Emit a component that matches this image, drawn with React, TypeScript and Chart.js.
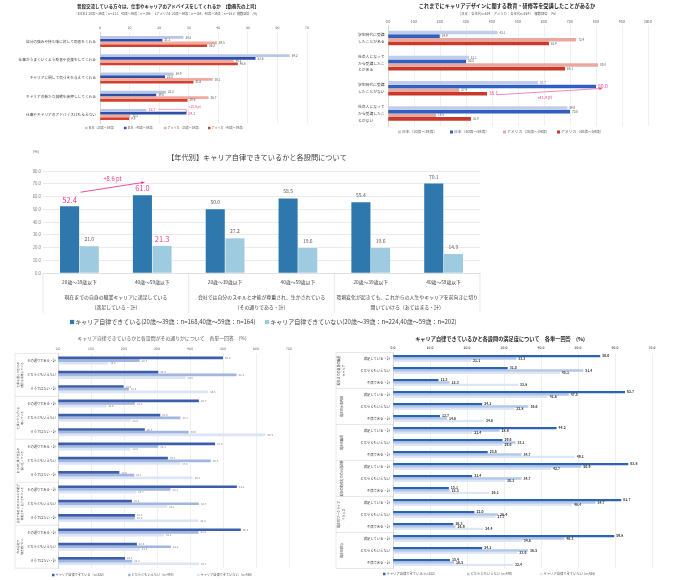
import React, { useEffect, useRef } from "react";
import { Chart, registerables } from "chart.js";
Chart.register(...registerables);

const FONT = '"Noto Sans CJK JP", "Noto Sans", sans-serif';
const PINK = "#ea3b8f";
const GRID = "#e0e0e0";

// ===== Top-left chart data =====
const tlTitle = "普段交流している方々は、仕事やキャリアのアドバイスをしてくれるか　【勤務先の上司】";
const tlSubtitle = "（【日本】20歳～39歳：n＝211、40歳～59歳：n＝195／【アメリカ】20歳～39歳：n＝168、40歳～59歳：n＝161）複数回答　(%)";
const tlCategories = [
  "自分の強みや持ち味に対して助言をくれる",
  "仕事がうまくいくよう助言や支援をしてくれる",
  "キャリアに関して気づきを与えてくれる",
  "キャリアの新たな挑戦を後押ししてくれる",
  "仕事やキャリアのアドバイスはもらえない",
];
const tlSeries = ["日本（20歳～39歳）", "日本（40歳～59歳）", "アメリカ（20歳～39歳）", "アメリカ（40歳～59歳）"];
const tlJapan2039 = [28.2, 64.2, 24.9, 22.3, 15.7];
const tlJapan4059 = [21.1, 52.6, 22.0, 19.0, 29.2];
const tlUsa2039 = [39.5, 45.2, 38.1, 36.7, 10.2];
const tlUsa4059 = [36.2, 46.6, 31.6, 29.6, 9.9];
const tlGapLabel = "+13.5 pt";

// ===== Top-right chart data =====
const trTitle = "これまでにキャリアデザインに関する教育・研修等を受講したことがあるか";
const trSubtitle = "［日本：各年代n=624　アメリカ：各年代n=624］　複数回答　(%)";
const trCategories = [
  ["学生時代に受講", "したことがある"],
  ["社会人になって", "から受講したこ", "とがある"],
  ["学生時代に受講", "したことがない"],
  ["社会人になって", "から受講したこ", "とがない"],
];
const trSeries = ["日本（20歳～39歳）", "日本（40歳～59歳）", "アメリカ（20歳～39歳）", "アメリカ（40歳～59歳）"];
const trJapan2039 = [42.1, 31.1, 57.7, 69.0];
const trJapan4059 = [19.9, 30.0, 80.0, 70.0];
const trUsa2039 = [72.4, 80.8, 27.4, 18.5];
const trUsa4059 = [61.9, 68.1, 38.1, 31.9];
const trGapLabel = "+41.9 pt";

// ===== Middle chart data =====
const midTitle = "【年代別】キャリア自律できているかと各設問について";
const midAges = ["20歳～39歳以下", "40歳～59歳以下"];
const midQuestions = [
  ["現在までの自身の職業キャリアに満足している", "（満足している・計）"],
  ["会社では自分のスキルと才能が尊重され、生かされている", "（その通りである・計）"],
  ["環境変化が起きても、これからの人生やキャリアを前向きに切り", "開いていける（あてはまる・計）"],
];
const midSeries = [
  "キャリア自律できている(20歳～39歳：n=168,40歳～59歳：n=164)",
  "キャリア自律できていない(20歳～39歳：n=224,40歳～59歳：n=202)",
];
const midAutonomous = [52.4, 61.0, 50.0, 58.5, 55.4, 70.1];
const midNotAutonomous = [21.0, 21.3, 27.2, 19.6, 19.6, 14.9];
const midGapLabel = "+8.6 pt";

// ===== Bottom-left chart data =====
const blTitle = "キャリア自律できているかと各設問がその通りかについて　各単一回答　(%)";
const blGroups = [
  ["仕事を通じて自分の", "成長を実感している"],
  ["仕事にやりがいを", "感じている"],
  ["自分の仕事が社会の", "役に立っている"],
  ["会社では自分のスキルと才能が", "尊重され、生かされている"],
  ["今の会社で", "働き続けたい"],
];
const blItems = ["その通りである・計", "どちらともいえない", "そうではない・計"];
const blSeries = ["キャリア自律できている（n=332）", "どちらともいえない（n=490）", "キャリア自律できていない（n=436）"];
const blAutonomous = [50.0, 30.4, 19.9, 42.7, 31.0, 26.3, 47.6, 33.3, 18.6, 54.2, 22.4, 23.3, 55.4, 23.9, 20.3];
const blNeutral = [24.7, 54.1, 21.5, 23.3, 37.1, 39.6, 30.4, 46.3, 23.1, 34.1, 42.7, 23.3, 42.6, 34.2, 22.5];
const blNotAutonomous = [15.2, 38.6, 45.5, 14.6, 22.0, 62.9, 22.0, 37.0, 40.8, 23.7, 33.1, 42.5, 32.1, 24.8, 42.7];

// ===== Bottom-right chart data =====
const brTitle = "キャリア自律できているかと各設問の満足度について　各単一回答　(%)";
const brGroups = [
  ["現在までの自身の職業", "キャリア"],
  ["現在の仕事内容"],
  ["現在の職場"],
  ["現在の勤務先での人間関係"],
  ["現在のワークライフ", "バランス"],
  ["現在の給与"],
];
const brItems = ["満足している・計", "どちらともいえない", "不満である・計"];
const brSeries = ["キャリア自律できている (n=332)", "どちらともいえない (n=490)", "キャリア自律できていない (n=426)"];
const brAutonomous = [56.0, 31.0, 12.3, 62.7, 24.1, 12.7, 44.2, 29.6, 25.6, 63.6, 21.4, 15.1, 61.7, 22.0, 16.3, 59.8, 24.1, 15.4];
const brNeutral = [33.3, 51.4, 15.3, 47.5, 36.6, 14.6, 28.8, 33.1, 34.7, 50.9, 34.7, 15.3, 54.7, 28.4, 16.9, 46.3, 36.5, 16.5];
const brNotAutonomous = [21.1, 45.1, 33.8, 41.8, 32.8, 24.6, 21.4, 29.6, 49.1, 42.7, 30.3, 26.1, 48.4, 27.7, 24.4, 34.8, 33.6, 32.4];

// ===== helpers =====
function text(ctx: any, s: string, x: number, y: number, size: number, color = "#404040", align = "left", bold = false) {
  ctx.save();
  ctx.font = `${bold ? "bold " : ""}${size}px ${FONT}`;
  ctx.fillStyle = color;
  ctx.textAlign = align;
  ctx.textBaseline = "middle";
  ctx.fillText(s, x, y);
  ctx.restore();
}

function vtext(ctx: any, lines: string[], cx: number, cy: number, size: number, color: string, gap: number) {
  ctx.save();
  ctx.translate(cx, cy);
  ctx.rotate(-Math.PI / 2);
  ctx.font = `${size}px ${FONT}`;
  ctx.fillStyle = color;
  ctx.textAlign = "center";
  ctx.textBaseline = "middle";
  const n = lines.length;
  lines.forEach((l, i) => ctx.fillText(l, 0, (i - (n - 1) / 2) * gap));
  ctx.restore();
}

function legend(ctx: any, items: [string, string][], xs: number[], y: number, size: number, box: number, color = "#404040") {
  items.forEach(([label, fill], i) => {
    ctx.save();
    ctx.fillStyle = fill;
    ctx.fillRect(xs[i], y - box / 2, box, box);
    ctx.restore();
    text(ctx, label, xs[i] + box + 1, y, size, color);
  });
}

function arrow(ctx: any, x1: number, y1: number, x2: number, y2: number, color: string, w: number, head: number) {
  ctx.save();
  ctx.strokeStyle = color;
  ctx.fillStyle = color;
  ctx.lineWidth = w;
  ctx.beginPath();
  ctx.moveTo(x1, y1);
  ctx.lineTo(x2, y2);
  ctx.stroke();
  const a = Math.atan2(y2 - y1, x2 - x1);
  ctx.beginPath();
  ctx.moveTo(x2, y2);
  ctx.lineTo(x2 - head * Math.cos(a - 0.45), y2 - head * Math.sin(a - 0.45));
  ctx.lineTo(x2 - head * Math.cos(a + 0.45), y2 - head * Math.sin(a + 0.45));
  ctx.closePath();
  ctx.fill();
  ctx.restore();
}

function valueLabels(o: { size: number; color: string; offset: number; bold?: boolean; highlight?: Record<string, any> }) {
  return {
    id: "valueLabels",
    afterDatasetsDraw(chart: any) {
      const ctx = chart.ctx;
      const horiz = chart.options.indexAxis === "y";
      chart.data.datasets.forEach((ds: any, di: number) => {
        const meta = chart.getDatasetMeta(di);
        meta.data.forEach((el: any, i: number) => {
          const v = ds.data[i];
          if (v == null) return;
          const h = (o.highlight && o.highlight[`${di}-${i}`]) || {};
          const size = h.size ?? o.size;
          const color = h.color ?? o.color;
          const s = Number(v).toFixed(1);
          if (horiz) text(ctx, s, el.x + o.offset + (h.dx || 0), el.y + (h.dy || 0), size, color, "left", o.bold);
          else text(ctx, s, el.x + (h.dx || 0), el.y - o.offset + (h.dy || 0), size, color, "center", o.bold);
        });
      });
    },
  };
}

function decor(fn: (ctx: any, chart: any) => void) {
  return { id: "decor", afterDraw(chart: any) { fn(chart.ctx, chart); } };
}

function hbar(o: any) {
  return {
    type: "bar",
    data: { labels: o.labels, datasets: o.datasets },
    options: {
      indexAxis: "y",
      responsive: false,
      animation: false,
      events: [],
      layout: { padding: o.pad },
      plugins: { legend: { display: false }, title: { display: false }, tooltip: { enabled: false } },
      datasets: { bar: { categoryPercentage: o.catPct, barPercentage: 1 } },
      scales: {
        x: {
          position: "top",
          min: 0,
          max: o.max,
          ticks: {
            stepSize: o.step,
            font: { family: FONT, size: o.tickSize, weight: o.tickBold ? "bold" : "normal" },
            color: "#595959",
            padding: o.tickPad ?? 2,
            maxRotation: 0,
            callback: (v: any) => Number(v).toFixed(o.decimals),
          },
          grid: { color: GRID, lineWidth: 0.5, drawTicks: false },
          border: { display: false },
          afterFit: (s: any) => { s.height = o.xHeight; },
        },
        y: {
          ticks: {
            autoSkip: false,
            font: { family: FONT, size: o.labelSize, lineHeight: o.labelLine ?? 1.2 },
            color: "#404040",
            padding: o.labelPad ?? 3,
            crossAlign: o.crossAlign ?? "near",
          },
          grid: { display: false, drawTicks: false },
          border: { color: "#bfbfbf", width: 0.5 },
          afterFit: (s: any) => { s.width = o.yWidth; },
        },
      },
    },
    plugins: o.plugins,
  };
}

// ===== builders =====
const TL_C = ["#b9c6e8", "#2d4fa6", "#f0aaa0", "#d4402e"];
function buildTopLeft() {
  return hbar({
    labels: tlCategories,
    datasets: [
      { label: tlSeries[0], data: tlJapan2039, backgroundColor: TL_C[0] },
      { label: tlSeries[1], data: tlJapan4059, backgroundColor: TL_C[1] },
      { label: tlSeries[2], data: tlUsa2039, backgroundColor: TL_C[2] },
      { label: tlSeries[3], data: tlUsa4059, backgroundColor: TL_C[3] },
    ],
    max: 70, step: 10, decimals: 0, tickSize: 3.5, tickPad: 3,
    pad: { left: 3, right: 28, top: 26.4, bottom: 13.4 },
    xHeight: 6, yWidth: 97, catPct: 0.6, labelSize: 3.7, labelPad: 4,
    plugins: [
      valueLabels({ size: 3, color: "#595959", offset: 2, highlight: { "0-4": { color: PINK, size: 3.6, dy: -1 }, "1-4": { color: PINK, size: 3.6, dy: 1 } } }),
      decor((ctx, chart) => {
        text(ctx, tlTitle, 168, 6, 4.5, "#262626", "center", true);
        text(ctx, tlSubtitle, 166, 14, 3.1, "#595959", "center");
        legend(ctx, tlSeries.map((s, i) => [s, TL_C[i]] as [string, string]), [85, 124, 164, 208], 128, 3, 2.5, "#595959");
        const a = chart.getDatasetMeta(0).data[4];
        const b = chart.getDatasetMeta(1).data[4];
        ctx.save();
        ctx.strokeStyle = PINK;
        ctx.lineWidth = 0.5;
        ctx.beginPath();
        ctx.moveTo(a.x + 12, a.y - 1);
        ctx.lineTo(b.x, a.y - 1);
        ctx.lineTo(b.x, b.y);
        ctx.stroke();
        ctx.restore();
        text(ctx, tlGapLabel, b.x + 2, a.y - 4, 3.4, PINK);
      }),
    ],
  });
}

const TR_C = ["#c3cdea", "#2f5fbf", "#e9a89f", "#c9382a"];
function buildTopRight() {
  return hbar({
    labels: trCategories,
    datasets: [
      { label: trSeries[0], data: trJapan2039, backgroundColor: TR_C[0] },
      { label: trSeries[1], data: trJapan4059, backgroundColor: TR_C[1] },
      { label: trSeries[2], data: trUsa2039, backgroundColor: TR_C[2] },
      { label: trSeries[3], data: trUsa4059, backgroundColor: TR_C[3] },
    ],
    max: 100, step: 10, decimals: 1, tickSize: 3.3, tickPad: 2,
    pad: { left: 18, right: 27, top: 19.4, bottom: 11 },
    xHeight: 6, yWidth: 30, catPct: 0.58, labelSize: 3.8, labelLine: 1.75, crossAlign: "far",
    plugins: [
      valueLabels({ size: 3, color: "#595959", offset: 2, highlight: { "1-2": { color: PINK, size: 5 }, "3-2": { color: PINK, size: 4.6 } } }),
      decor((ctx, chart) => {
        text(ctx, trTitle, 167, 6, 5.2, "#262626", "center", true);
        text(ctx, trSubtitle, 167, 14, 3.3, "#595959", "center");
        legend(ctx, trSeries.map((s, i) => [s, TR_C[i]] as [string, string]), [58, 110, 163, 217], 132, 3.8, 3, "#595959");
        const r = chart.getDatasetMeta(3).data[2];
        const d = chart.getDatasetMeta(1).data[2];
        const x1 = r.x + 10, y1 = r.y + 1, x2 = d.x + 6, y2 = d.y + 2;
        arrow(ctx, x1, y1, x2, y2, PINK, 0.6, 3);
        text(ctx, trGapLabel, (x1 + x2) / 2 - 5, Math.max(y1, y2) + 3, 4, PINK, "center");
      }),
    ],
  });
}

const MID_C = ["#2f78ad", "#9ecbe0"];
function buildMiddle() {
  return {
    type: "bar",
    data: {
      labels: midQuestions.flatMap(() => midAges),
      datasets: [
        { label: midSeries[0], data: midAutonomous, backgroundColor: MID_C[0] },
        { label: midSeries[1], data: midNotAutonomous, backgroundColor: MID_C[1] },
      ],
    },
    options: {
      responsive: false,
      animation: false,
      events: [],
      layout: { padding: { left: 10, right: 10, top: 31, bottom: 2 } },
      plugins: { legend: { display: false }, title: { display: false }, tooltip: { enabled: false } },
      datasets: { bar: { categoryPercentage: 0.54, barPercentage: 0.97 } },
      scales: {
        x: {
          ticks: { font: { family: FONT, size: 4.8 }, color: "#404040", padding: 6, maxRotation: 0, autoSkip: false },
          grid: { display: false, drawTicks: false },
          border: { color: "#d9d9d9", width: 0.6 },
          afterFit: (s: any) => { s.height = 55; },
        },
        y: {
          min: 0,
          max: 80,
          ticks: { stepSize: 10, font: { family: FONT, size: 4.3 }, color: "#7f7f7f", padding: 2, callback: (v: any) => Number(v).toFixed(1) },
          grid: { color: "#dedede", lineWidth: 0.6, drawTicks: false },
          border: { display: false },
          afterFit: (s: any) => { s.width = 33; },
        },
      },
    },
    plugins: [
      valueLabels({
        size: 5, color: "#595959", offset: 7,
        highlight: { "0-0": { color: PINK, size: 7.5, dy: 0.5 }, "0-1": { color: PINK, size: 7.5 }, "1-1": { color: PINK, size: 7.5 } },
      }),
      decor((ctx, chart) => {
        const xs = chart.scales.x;
        const ys = chart.scales.y;
        const ca = chart.chartArea;
        text(ctx, midTitle, 257, 17, 7.2, "#404040", "center");
        text(ctx, "(%)", 36, 12, 3.8, "#595959", "center");
        midQuestions.forEach((lines, g) => {
          const cx = (xs.getPixelForValue(2 * g) + xs.getPixelForValue(2 * g + 1)) / 2;
          lines.forEach((l, k) => text(ctx, l, cx, 157 + k * 10.5, 4.9, "#404040", "center"));
        });
        ctx.save();
        ctx.strokeStyle = "#d9d9d9";
        ctx.lineWidth = 0.6;
        const bounds = [ca.left, ...[1, 3].map((i) => (xs.getPixelForValue(i) + xs.getPixelForValue(i + 1)) / 2), ca.right];
        bounds.forEach((bx) => {
          ctx.beginPath();
          ctx.moveTo(bx, ca.bottom);
          ctx.lineTo(bx, 173);
          ctx.stroke();
        });
        ctx.restore();
        legend(ctx, [[midSeries[0], MID_C[0]], [midSeries[1], MID_C[1]]], [70, 265], 182, 6, 4.2, "#404040");
        const b0 = chart.getDatasetMeta(0).data[0];
        const b1 = chart.getDatasetMeta(0).data[1];
        const x1 = b0.x + 11, y1 = ys.getPixelForValue(midAutonomous[0]) - 14;
        const x2 = b1.x + 2, y2 = ys.getPixelForValue(midAutonomous[1]) - 13;
        arrow(ctx, x1, y1, x2, y2, PINK, 0.9, 3.5);
        text(ctx, midGapLabel, (x1 + x2) / 2, (y1 + y2) / 2 - 8, 5.8, PINK, "center");
      }),
    ],
  };
}

function groupDecor(groups: string[][], nItems: number, boxLeft: number, labelX: number, size: number, gap: number) {
  return (ctx: any, chart: any) => {
    const ys = chart.scales.y;
    const ca = chart.chartArea;
    ctx.save();
    ctx.strokeStyle = "#d0d0d0";
    ctx.lineWidth = 0.5;
    ctx.beginPath();
    ctx.moveTo(boxLeft, ca.top);
    ctx.lineTo(boxLeft, ca.bottom);
    ctx.stroke();
    const edges: number[] = [ca.top];
    for (let g = 1; g < groups.length; g++) {
      edges.push((ys.getPixelForValue(g * nItems - 1) + ys.getPixelForValue(g * nItems)) / 2);
    }
    edges.push(ca.bottom);
    edges.forEach((e) => {
      ctx.beginPath();
      ctx.moveTo(boxLeft, e);
      ctx.lineTo(ca.left, e);
      ctx.stroke();
    });
    ctx.restore();
    groups.forEach((lines, g) => vtext(ctx, lines, labelX, (edges[g] + edges[g + 1]) / 2, size, "#404040", gap));
  };
}

const BL_C = ["#3d5eab", "#a2b6df", "#dce5f5"];
function buildBottomLeft() {
  return hbar({
    labels: blGroups.flatMap(() => blItems),
    datasets: [
      { label: blSeries[0], data: blAutonomous, backgroundColor: BL_C[0] },
      { label: blSeries[1], data: blNeutral, backgroundColor: BL_C[1] },
      { label: blSeries[2], data: blNotAutonomous, backgroundColor: BL_C[2] },
    ],
    max: 70, step: 10, decimals: 1, tickSize: 3.2, tickPad: 3,
    pad: { left: 2, right: 16, top: 17.4, bottom: 11.8 },
    xHeight: 6, yWidth: 56, catPct: 0.56, labelSize: 3.2, labelPad: 2,
    plugins: [
      valueLabels({ size: 2.8, color: "#7f7f7f", offset: 2 }),
      decor((ctx, chart) => {
        text(ctx, blTitle, 162, 8, 4.9, "#595959", "center");
        legend(ctx, blSeries.map((s, i) => [s, BL_C[i]] as [string, string]), [52, 128, 197], 245, 3.2, 2.5, "#595959");
        groupDecor(blGroups, blItems.length, 15, 20, 2.8, 4.5)(ctx, chart);
      }),
    ],
  });
}

const BR_C = ["#2d63b3", "#b3c7e9", "#dde6f5"];
function buildBottomRight() {
  return hbar({
    labels: brGroups.flatMap(() => brItems),
    datasets: [
      { label: brSeries[0], data: brAutonomous, backgroundColor: BR_C[0] },
      { label: brSeries[1], data: brNeutral, backgroundColor: BR_C[1] },
      { label: brSeries[2], data: brNotAutonomous, backgroundColor: BR_C[2] },
    ],
    max: 70, step: 10, decimals: 1, tickSize: 3.3, tickBold: true, tickPad: 3,
    pad: { left: 2, right: 23, top: 16.5, bottom: 11.5 },
    xHeight: 6, yWidth: 61, catPct: 0.6, labelSize: 3.3, labelPad: 3,
    plugins: [
      valueLabels({ size: 3.4, color: "#333333", offset: 2, bold: true }),
      decor((ctx, chart) => {
        text(ctx, brTitle, 170, 9, 5.2, "#262626", "center", true);
        legend(ctx, brSeries.map((s, i) => [s, BR_C[i]] as [string, string]), [53, 137, 210], 244, 3.3, 2.5, "#595959");
        groupDecor(brGroups, brItems.length, 6, 11.5, 3, 4.5)(ctx, chart);
      }),
    ],
  });
}

function ChartCanvas({ left, top, width, height, build }: { left: number; top: number; width: number; height: number; build: () => any }) {
  const ref = useRef<HTMLCanvasElement>(null);
  useEffect(() => {
    const chart = new Chart(ref.current as HTMLCanvasElement, build());
    return () => chart.destroy();
  }, []);
  return <canvas ref={ref} width={width} height={height} style={{ position: "absolute", left, top, width, height }} />;
}

export default function App() {
  return (
    <div style={{ position: "absolute", left: 0, top: 0, width: 675, height: 580, background: "#ffffff", overflow: "hidden" }}>
      <ChartCanvas left={0} top={0} width={335} height={137} build={buildTopLeft} />
      <ChartCanvas left={340} top={0} width={335} height={137} build={buildTopRight} />
      <ChartCanvas left={0} top={140} width={490} height={190} build={buildMiddle} />
      <ChartCanvas left={0} top={330} width={305} height={250} build={buildBottomLeft} />
      <ChartCanvas left={330} top={330} width={345} height={250} build={buildBottomRight} />
    </div>
  );
}
